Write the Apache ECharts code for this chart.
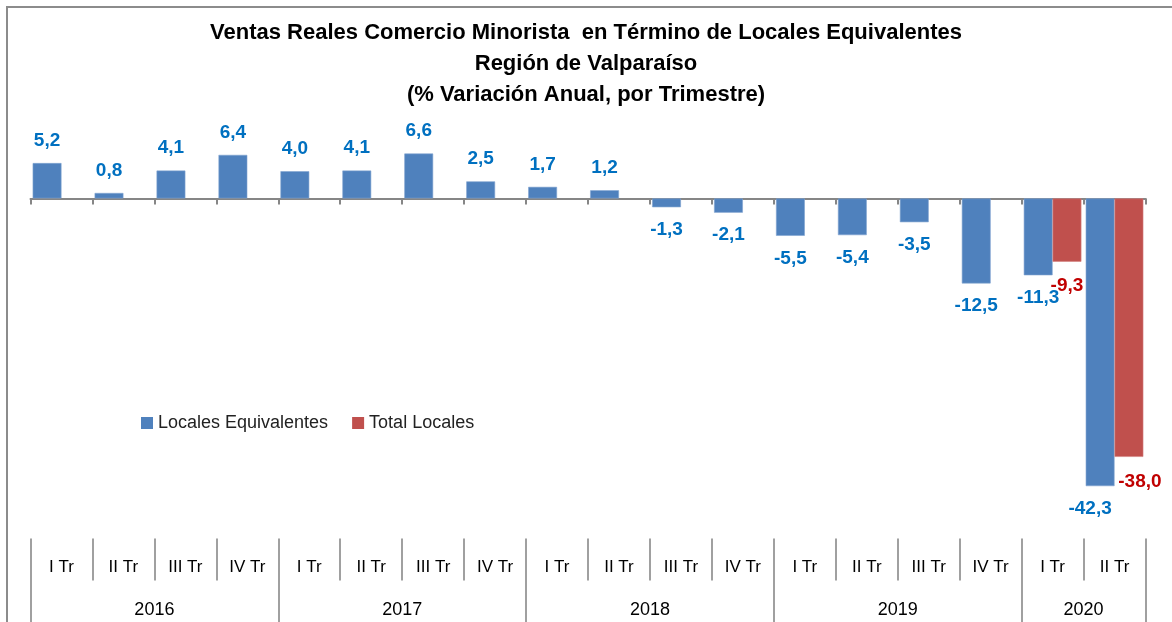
<!DOCTYPE html>
<html>
<head>
<meta charset="utf-8">
<title>Ventas Reales Comercio Minorista</title>
<script src="https://cdn.jsdelivr.net/npm/echarts@6/dist/echarts.min.js"></script>
<style>
	body{margin:0;background:#fff;}
	#chart{position:absolute;left:0;top:0;width:1172px;height:622px;}
	#frame{position:absolute;left:6px;top:6px;width:1172px;height:622px;border-left:2px solid #8c8c8c;border-top:2px solid #8c8c8c;pointer-events:none;}
</style>
</head>
<body>
<div id="chart"></div>
<div id="frame"></div>
<script>
// datos por trimestre
var quarters = ['I Tr','II Tr','III Tr','IV Tr','I Tr','II Tr','III Tr','IV Tr','I Tr','II Tr','III Tr','IV Tr','I Tr','II Tr','III Tr','IV Tr','I Tr','II Tr'];
var years = ['2016','2017','2018','2019','2020'];
var quartersPerYear = [4,4,4,4,2];
var localesEquivalentes = [5.2,0.8,4.1,6.4,4.0,4.1,6.6,2.5,1.7,1.2,-1.3,-2.1,-5.5,-5.4,-3.5,-12.5,-11.3,-42.3];
var totalLocales = [null,null,null,null,null,null,null,null,null,null,null,null,null,null,null,null,-9.3,-38.0];

var FONT = '"Liberation Sans", Arial, sans-serif';

// eje de años: puntos a medio trimestre (0..36), etiqueta al centro de cada año
var yearAxisData = [];
var yearTicks = {};
(function(){
	var n = quarters.length * 2 + 1;
	for (var i = 0; i < n; i++) yearAxisData.push('');
	var pos = 0;
	yearTicks[0] = true;
	for (var k = 0; k < years.length; k++){
		yearAxisData[pos + quartersPerYear[k]] = years[k];
		pos += quartersPerYear[k] * 2;
		yearTicks[pos] = true;
	}
})();

function fmt(v){
	return v.toFixed(1).replace('.', ',');
}

function makeData(values, extraOffsets){
	return values.map(function(v, i){
		if (v === null) return null;
		var item = {value: v, label: {position: v < 0 ? 'bottom' : 'top'}};
		if (extraOffsets && extraOffsets[i]) item.label.offset = extraOffsets[i];
		return item;
	});
}

var myChart = echarts.init(document.getElementById('chart'));
var option = {
	animation: false,
	title: {
		text: 'Ventas Reales Comercio Minorista  en Término de Locales Equivalentes\nRegión de Valparaíso\n(% Variación Anual, por Trimestre)',
		left: 'center',
		top: 12,
		textStyle: {fontFamily: FONT, fontSize: 22, fontWeight: 'bold', color: '#000', lineHeight: 31}
	},
	legend: {
		data: ['Locales Equivalentes', 'Total Locales'],
		left: 136,
		top: 409,
		icon: 'rect',
		itemWidth: 12,
		itemHeight: 12,
		itemGap: 24,
		itemStyle: {borderWidth: 0},
		textStyle: {fontFamily: FONT, fontSize: 18, color: '#222'}
	},
	grid: {left: 30.5, right: 26.5, top: 110, bottom: 83.5, containLabel: false},
	xAxis: [
		{
			type: 'category',
			data: quarters,
			axisLine: {onZero: true, lineStyle: {color: '#868686', width: 2}},
			axisTick: {show: true, length: 6, lineStyle: {color: '#868686', width: 2}},
			axisLabel: {show: false}
		},
		{
			type: 'category',
			data: quarters,
			position: 'bottom',
			axisLine: {show: false, onZero: false},
			axisTick: {show: true, interval: 0, length: 42, lineStyle: {color: '#a0a0a0', width: 2}},
			axisLabel: {interval: 0, margin: 20, fontFamily: FONT, fontSize: 17, color: '#000'}
		},
		{
			type: 'category',
			data: yearAxisData,
			boundaryGap: false,
			position: 'bottom',
			axisLine: {show: false, onZero: false},
			axisTick: {show: true, length: 86, lineStyle: {color: '#a0a0a0', width: 2},
				interval: function(index){ return !!yearTicks[index]; }},
			axisLabel: {margin: 63, fontFamily: FONT, fontSize: 18, color: '#000',
				interval: function(index, value){ return value !== ''; }}
		}
	],
	yAxis: {
		type: 'value',
		min: -50,
		max: 13,
		show: false,
		splitLine: {show: false}
	},
	series: [
		{
			name: 'Locales Equivalentes',
			type: 'bar',
			xAxisIndex: 0,
			barGap: '0%',
			barCategoryGap: '7%',
			itemStyle: {color: '#4F81BD', borderColor: '#7fa3d0', borderWidth: 0.6},
			label: {show: true, distance: 13, color: '#0070C0', fontFamily: FONT, fontSize: 19, fontWeight: 'bold',
				formatter: function(p){ return fmt(p.value); }},
			data: makeData(localesEquivalentes, {17: [-10, 0]})
		},
		{
			name: 'Total Locales',
			type: 'bar',
			xAxisIndex: 0,
			barGap: '0%',
			barCategoryGap: '7%',
			itemStyle: {color: '#C0504D', borderColor: '#d37f7d', borderWidth: 0.6},
			label: {show: true, distance: 15, color: '#C00000', fontFamily: FONT, fontSize: 19, fontWeight: 'bold',
				formatter: function(p){ return fmt(p.value); }},
			data: makeData(totalLocales, {17: [11, 0]})
		}
	]
};
myChart.setOption(option);
</script>
</body>
</html>
